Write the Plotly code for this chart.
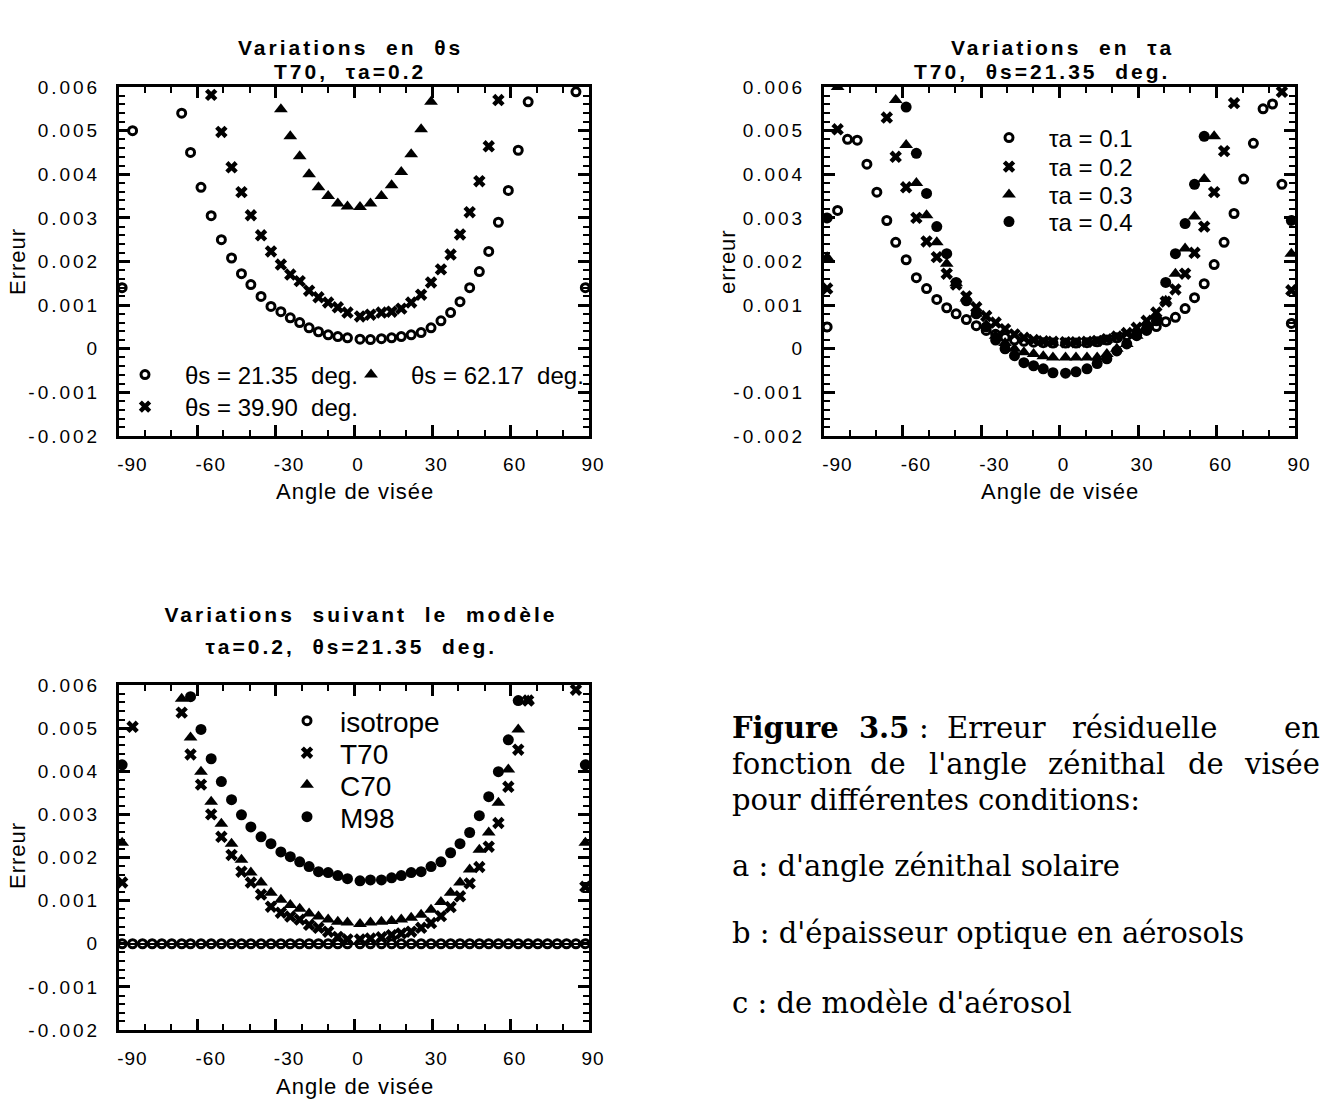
import plotly.graph_objects as go

# Viewing angles (deg): left half and right half of the scan
angles = [-88.8, -84.8, -81.0, -77.3, -73.6, -69.8, -66.0, -62.6, -58.6, -54.7, -50.8, -46.9,
          -43.1, -39.5, -35.6, -31.8, -28.0, -24.4, -20.8, -17.2, -13.6, -9.9, -6.2, -2.5,
          2.3, 6.3, 10.5, 14.4, 18.1, 21.9, 25.7, 29.5, 33.3, 37.0, 40.6, 44.3, 48.0, 51.6,
          55.3, 59.1, 62.9, 66.7, 70.4, 74.1, 77.8, 81.4, 85.0, 88.6]

# (a) T70, tau_a = 0.2, three solar zenith angles
err_ts2135 = [0.0014, 0.0050, None, None, None, None, 0.0054, 0.0045, 0.0037, 0.00305, 0.0025, 0.00208,
              0.00172, 0.00147, 0.0012, 0.00097, 0.00085, 0.00071, 0.0006, 0.00048, 0.00039, 0.00032, 0.00028, 0.00025,
              0.00022, 0.00021, 0.00023, 0.00025, 0.00028, 0.00032, 0.00037, 0.00048, 0.00064, 0.00083, 0.00108, 0.0014,
              0.00177, 0.00223, 0.0029, 0.00363, 0.00455, 0.00566, None, None, None, None, 0.00589, 0.0014]
err_ts3990 = [None, None, None, None, None, None, None, None, None, 0.00582, 0.00497, 0.00416,
              0.00359, 0.00306, 0.0026, 0.00223, 0.00193, 0.0017, 0.00155, 0.00133, 0.00118, 0.00106, 0.00095, 0.00083,
              0.00074, 0.00078, 0.00083, 0.00085, 0.00092, 0.00106, 0.00124, 0.00152, 0.00182, 0.00216, 0.00262, 0.00313,
              0.00384, 0.00464, 0.0057, None, None, None, None, None, None, None, None, None]
err_ts6217 = [None, None, None, None, None, None, None, None, None, None, None, None,
              None, None, None, None, 0.00549, 0.00487, 0.00441, 0.004, 0.0037, 0.0035, 0.00333, 0.00326,
              0.00325, 0.00333, 0.0035, 0.00375, 0.00405, 0.00446, 0.00503, 0.00566, None, None, None, None,
              None, None, None, None, None, None, None, None, None, None, None, None]

# (b) T70, theta_s = 21.35 deg, four aerosol optical thicknesses
err_ta01 = [0.0005, 0.00317, 0.0048, 0.00478, 0.00423, 0.00359, 0.00294, 0.00244, 0.00204, 0.00163, 0.00138, 0.00113,
            0.00094, 0.0008, 0.00067, 0.00053, 0.00042, 0.00033, 0.00026, 0.0002, 0.00017, 0.00015, 0.00014, 0.00013,
            0.00013, 0.00013, 0.00014, 0.00016, 0.0002, 0.00025, 0.0003, 0.00036, 0.00042, 0.00051, 0.00062, 0.00072,
            0.00092, 0.00117, 0.00149, 0.00193, 0.00244, 0.0031, 0.00389, 0.00471, 0.0055, 0.00561, 0.00377, 0.00058]
err_ta02 = [0.00138, 0.00503, None, None, None, None, 0.0053, 0.0044, 0.0037, 0.003, 0.00246, 0.0021,
            0.00172, 0.00147, 0.0012, 0.00095, 0.00075, 0.0006, 0.00045, 0.00033, 0.00025, 0.0002, 0.00017, 0.00016,
            0.00015, 0.00015, 0.00016, 0.00018, 0.00022, 0.00028, 0.00036, 0.00048, 0.00064, 0.00083, 0.00108, 0.00136,
            0.00172, 0.0022, 0.0028, 0.00359, 0.00453, 0.00563, None, None, None, None, 0.00589, 0.00134]
err_ta03 = [0.0021, 0.006, None, None, None, None, None, 0.0057, 0.00467, 0.0038, 0.00306, 0.00244,
            0.00195, 0.0015, 0.00115, 0.0008, 0.00055, 0.0003, 0.00013, 0.0, -0.00008, -0.00012, -0.00017, -0.0002,
            -0.0002, -0.0002, -0.0002, -0.0002, -0.00012, 0.0, 0.00011, 0.0003, 0.0005, 0.00075, 0.0011, 0.00172,
            0.0023, 0.00303, 0.00389, 0.00487, None, None, None, None, None, None, None, 0.00218]
err_ta04 = [0.003, None, None, None, None, None, None, None, 0.00554, 0.00448, 0.00356, 0.0028,
            0.00218, 0.00152, 0.0011, 0.0008, 0.0005, 0.0002, 0.0, -0.00016, -0.00032, -0.00039, -0.00046, -0.00055,
            -0.00056, -0.00053, -0.00046, -0.00034, -0.00023, -0.00005, 0.00011, 0.0003, 0.00046, 0.00064, 0.00152, 0.00218,
            0.00287, 0.00377, 0.00487, None, None, None, None, None, None, None, None, 0.00294]

# (c) tau_a = 0.2, theta_s = 21.35 deg, four aerosol models
err_iso = [0.0] * 48
err_t70 = [0.00142, 0.00503, None, None, None, None, 0.00536, 0.00439, 0.00369, 0.003, 0.00248, 0.00206,
           0.00167, 0.00142, 0.00114, 0.00086, 0.00072, 0.00063, 0.00056, 0.00044, 0.00037, 0.00028, 0.00016, 0.0001,
           0.0001, 0.00012, 0.00015, 0.0002, 0.00024, 0.00028, 0.00037, 0.00048, 0.00064, 0.00085, 0.0011, 0.0014,
           0.00178, 0.00225, 0.0028, 0.00364, 0.0045, 0.00564, None, None, None, None, 0.00589, 0.00132]
err_c70 = [0.00234, None, None, None, None, None, 0.00568, 0.00478, 0.00399, 0.00329, 0.00278, 0.00232,
           0.00195, 0.00165, 0.00142, 0.00118, 0.00102, 0.0009, 0.00081, 0.0007, 0.00063, 0.00056, 0.00051, 0.00049,
           0.00046, 0.00049, 0.00051, 0.00053, 0.00056, 0.0006, 0.00067, 0.00079, 0.00097, 0.00118, 0.00142, 0.00172,
           0.00218, 0.00258, 0.00327, 0.00404, 0.00497, 0.00564, None, None, None, None, None, 0.00234]
err_m98 = [0.00415, None, None, None, None, None, None, 0.00573, 0.00497, 0.00429, 0.00376, 0.00334,
           0.00299, 0.00271, 0.00248, 0.00232, 0.00213, 0.00202, 0.0019, 0.00179, 0.00167, 0.00165, 0.00158, 0.00151,
           0.00146, 0.00148, 0.00148, 0.00153, 0.00158, 0.00165, 0.00167, 0.00179, 0.0019, 0.00211, 0.00232, 0.00258,
           0.00297, 0.00341, 0.00399, 0.00473, 0.00564, None, None, None, None, None, None, 0.00415]

x_ticks = [-90, -60, -30, 0, 30, 60, 90]
x_tick_labels = ["\u00a0\u00a0\u00a0-90", "\u00a0\u00a0\u00a0-60", "\u00a0\u00a0\u00a0-30", "0", "30", "60", "90"]
y_ticks = [-0.002, -0.001, 0, 0.001, 0.002, 0.003, 0.004, 0.005, 0.006]
y_tick_labels = ["-0.002", "-0.001", "0", "0.001", "0.002", "0.003", "0.004", "0.005", "0.006"]

SANS = "Liberation Sans, Arial, sans-serif"
SERIF = "DejaVu Serif, serif"
W, H = 1326, 1103


def px(x):
    return x / W


def py(y):
    return 1 - y / H


fig = go.Figure()

MK = {
    "ring": dict(symbol="circle-open", size=8, line=dict(width=3, color="black"), color="black"),
    "x": dict(symbol="x", size=11, color="black", line=dict(width=0)),
    "tri": dict(symbol="triangle-up", size=12, color="black", line=dict(width=0)),
    "dot": dict(symbol="circle", size=11, color="black", line=dict(width=0)),
}

legends = {}


def add(y, name, mk, xa, ya, leg_id, mx, my, size, gap):
    """One series; its legend entry is a single-item legend, symbol centred at (mx, my),
    label starting `gap` px to the right of the symbol centre."""
    key = "legend" if leg_id == 1 else f"legend{leg_id}"
    item_w = 2 * (gap - 5)
    legends[key] = dict(x=px(mx - gap), y=py(my), xanchor="left", yanchor="middle",
                        bgcolor="rgba(0,0,0,0)", borderwidth=0, itemwidth=item_w,
                        font=dict(family=SANS, size=size, color="black"))
    fig.add_trace(go.Scatter(x=angles, y=y, mode="markers", name=name, marker=MK[mk],
                             xaxis=xa, yaxis=ya, legend=key))


# panel (a)
add(err_ts2135, "θs = 21.35  deg.", "ring", "x", "y", 1, 145, 375, 24, 40)
add(err_ts3990, "θs = 39.90  deg.", "x", "x", "y", 2, 145, 407, 24, 40)
add(err_ts6217, "θs = 62.17  deg.", "tri", "x", "y", 3, 371, 375, 24, 40)
# panel (b)
add(err_ta01, "τa = 0.1", "ring", "x2", "y2", 4, 1009, 138, 24, 40)
add(err_ta02, "τa = 0.2", "x", "x2", "y2", 5, 1009, 167, 24, 40)
add(err_ta03, "τa = 0.3", "tri", "x2", "y2", 6, 1009, 195, 24, 40)
add(err_ta04, "τa = 0.4", "dot", "x2", "y2", 7, 1009, 222, 24, 40)
# panel (c)
add(err_iso, "isotrope", "ring", "x3", "y3", 8, 307, 721, 28, 33)
add(err_t70, "T70", "x", "x3", "y3", 9, 307, 753, 28, 33)
add(err_c70, "C70", "tri", "x3", "y3", 10, 307, 785, 28, 33)
add(err_m98, "M98", "dot", "x3", "y3", 11, 307, 817, 28, 33)

axis_common = dict(
    showline=True, linewidth=3, linecolor="black", mirror="ticks",
    ticks="inside", ticklen=11, tickwidth=2.5, tickcolor="black",
    showgrid=False, zeroline=False,
    tickfont=dict(family=SANS, size=19, color="black"),
)
xaxis_common = dict(axis_common, range=[-90, 90], tickvals=x_ticks, ticktext=x_tick_labels,
                    minor=dict(dtick=10, ticks="inside", ticklen=6, tickwidth=2, tickcolor="black"),
                    ticklabelstandoff=9, ticklabelshift=4)
yaxis_common = dict(axis_common, range=[-0.002, 0.006], tickvals=y_ticks, ticktext=y_tick_labels,
                    minor=dict(dtick=0.0002, tick0=0, ticks="inside", ticklen=6, tickwidth=2, tickcolor="black"),
                    ticklabelstandoff=12)

xa_dom = [px(119), px(589)]
xb_dom = [px(824), px(1295)]
ytop_dom = [py(436), py(87)]
ybot_dom = [py(1030), py(685)]

fig.update_layout(
    width=W, height=H,
    margin=dict(l=0, r=0, t=0, b=0, autoexpand=False),
    paper_bgcolor="white", plot_bgcolor="white",
    xaxis=dict(xaxis_common, domain=xa_dom, anchor="y"),
    yaxis=dict(yaxis_common, domain=ytop_dom, anchor="x"),
    xaxis2=dict(xaxis_common, domain=xb_dom, anchor="y2"),
    yaxis2=dict(yaxis_common, domain=ytop_dom, anchor="x2"),
    xaxis3=dict(xaxis_common, domain=xa_dom, anchor="y3"),
    yaxis3=dict(yaxis_common, domain=ybot_dom, anchor="x3",
                zeroline=True, zerolinewidth=2, zerolinecolor="black"),
    showlegend=True,
    **legends,
)

ann = []


def text(x, y, s, size, family=SANS, xanchor="center", angle=0, bold=False):
    ann.append(dict(x=px(x), y=py(y), xref="paper", yref="paper", text=f"<b>{s}</b>" if bold else s,
                    showarrow=False, xanchor=xanchor, yanchor="middle", textangle=angle,
                    font=dict(family=family, size=size, color="black")))


# panel titles (annotations 0-5)
text(350, 47, "Variations  en  θs", 21, bold=True)
text(350, 72, "T70,  τa=0.2", 21, bold=True)
text(1063, 47, "Variations  en  τa", 21, bold=True)
text(1042, 72, "T70,  θs=21.35  deg.", 21, bold=True)
text(361, 614, "Variations  suivant  le  modèle", 21, bold=True)
text(351, 646, "τa=0.2,  θs=21.35  deg.", 21, bold=True)

# axis titles (annotations 6-11)
text(355, 491, "Angle de visée", 22)
text(1060, 491, "Angle de visée", 22)
text(355, 1086, "Angle de visée", 22)
text(17, 262, "Erreur", 22, angle=-90)
text(727, 262, "erreur", 22, angle=-90)
text(17, 856, "Erreur", 22, angle=-90)

# caption: first two lines are justified to the right margin
CAP = 29
text(730, 728, "<b>Figure  3.5</b>", CAP, SERIF, xanchor="left")
text(924, 728, ":", CAP, SERIF)
text(945, 728, "Erreur", CAP, SERIF, xanchor="left")
text(1070, 728, "résiduelle", CAP, SERIF, xanchor="left")
text(1322, 728, "en", CAP, SERIF, xanchor="right")
text(730, 764, "fonction", CAP, SERIF, xanchor="left")
text(888, 764, "de", CAP, SERIF)
text(978, 764, "l'angle", CAP, SERIF)
text(1106, 764, "zénithal", CAP, SERIF)
text(1206, 764, "de", CAP, SERIF)
text(1322, 764, "visée", CAP, SERIF, xanchor="right")
text(730, 800, "pour différentes conditions:", CAP, SERIF, xanchor="left")
text(730, 866, "a : d'angle zénithal solaire", CAP, SERIF, xanchor="left")
text(730, 933, "b : d'épaisseur optique en aérosols", CAP, SERIF, xanchor="left")
text(730, 1003, "c : de modèle d'aérosol", CAP, SERIF, xanchor="left")
fig.update_layout(annotations=ann)

post = """
document.body.style.margin = '0';
var gd = document.getElementById('{plot_id}');
gd.querySelectorAll('.xaxislayer-above text').forEach(function(t){ t.style.letterSpacing = '1px'; });
gd.querySelectorAll('.yaxislayer-above text').forEach(function(t){ t.style.letterSpacing = '3px'; });
gd.querySelectorAll('g.annotation').forEach(function(g){
    var i = +g.getAttribute('data-index');
    var t = g.querySelector('text');
    if (!t) return;
    if (i < 6) t.style.letterSpacing = '3px';
    else if (i < 12) t.style.letterSpacing = '1px';
});
"""
fig.write_html("out.html", post_script=post)
